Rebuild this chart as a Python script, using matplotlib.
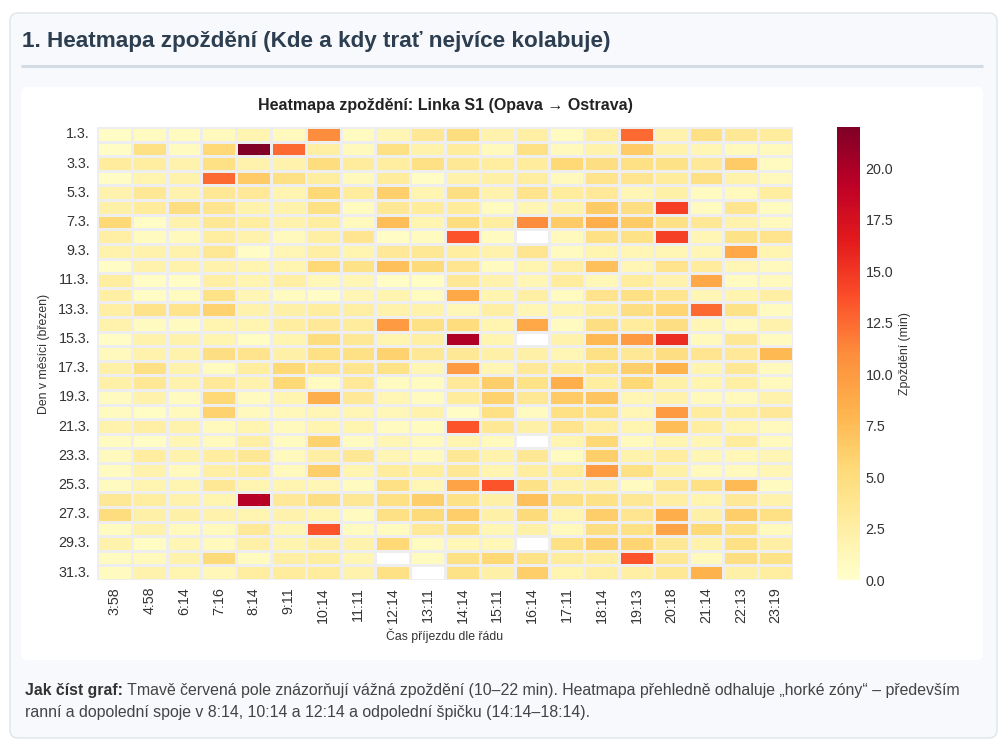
import numpy as np
import matplotlib
matplotlib.use('Agg')
import matplotlib.pyplot as plt
import seaborn as sns
from matplotlib.patches import FancyBboxPatch

plt.rcParams['font.family'] = ['Liberation Sans', 'DejaVu Sans']

W, H = 1000, 746

times = ['3:58', '4:58', '6:14', '7:16', '8:14', '9:11', '10:14', '11:11', '12:14', '13:11',
         '14:14', '15:11', '16:14', '17:11', '18:14', '19:13', '20:18', '21:14', '22:13', '23:19']
days = [f'{d}.3.' for d in range(1, 32)]
nan = np.nan

# delay in minutes, one row per day, one column per scheduled arrival
delays_min = [
    [0.5, 0.8, 0.8, 1.0, 1.8, 1.0, 11.0, 0.8, 1.5, 3.5, 5.0, 2.0, 2.5, 0.8, 2.5, 12.5, 2.0, 4.5, 3.5, 3.0],
    [0.5, 4.5, 0.8, 5.5, 22.0, 12.5, 2.5, 1.0, 4.5, 2.0, 3.0, 1.0, 4.5, 1.0, 2.0, 6.5, 2.0, 1.5, 1.0, 1.0],
    [3.0, 2.8, 2.0, 4.5, 2.0, 2.0, 5.0, 3.0, 2.8, 4.5, 3.5, 2.8, 3.0, 5.5, 4.8, 4.5, 4.3, 3.3, 6.5, 0.8],
    [0.5, 1.8, 2.0, 12.5, 6.5, 4.5, 2.8, 1.0, 3.0, 0.5, 2.0, 2.3, 2.8, 1.0, 4.0, 3.8, 3.0, 4.5, 2.0, 1.0],
    [2.0, 3.5, 2.0, 3.5, 3.3, 1.8, 5.5, 3.0, 6.2, 1.8, 4.8, 2.0, 4.0, 3.0, 3.3, 1.5, 2.3, 0.8, 1.0, 2.8],
    [2.3, 3.0, 4.8, 3.8, 2.0, 2.0, 4.5, 0.8, 3.5, 3.0, 3.0, 0.8, 1.5, 2.0, 6.5, 4.8, 14.5, 0.8, 3.8, 0.8],
    [5.5, 0.5, 2.0, 3.5, 2.8, 2.0, 2.8, 1.0, 7.5, 1.8, 5.0, 2.8, 11.0, 6.5, 8.5, 6.5, 4.5, 3.5, 2.0, 1.0],
    [2.5, 0.8, 1.0, 2.8, 2.0, 1.0, 2.5, 3.8, 0.5, 0.8, 13.5, 0.8, nan, 1.0, 4.5, 4.3, 14.5, 1.5, 4.3, 4.0],
    [2.0, 2.0, 2.0, 3.5, 0.5, 1.5, 2.5, 1.8, 3.3, 3.5, 2.8, 2.0, 3.8, 0.8, 1.8, 1.5, 1.5, 1.5, 9.0, 1.8],
    [0.5, 2.0, 2.0, 2.0, 1.8, 1.8, 5.5, 4.3, 7.3, 5.3, 3.8, 0.8, 1.8, 2.5, 7.3, 1.5, 4.0, 3.0, 1.5, 1.0],
    [2.8, 0.5, 0.5, 2.5, 1.8, 2.5, 1.3, 1.5, 0.5, 0.6, 3.5, 2.0, 1.5, 3.0, 1.3, 3.0, 2.0, 9.0, 0.8, 1.0],
    [2.5, 0.5, 0.8, 4.3, 1.5, 0.8, 0.5, 1.5, 1.8, 0.8, 9.0, 1.8, 2.5, 0.8, 4.0, 4.5, 3.8, 1.5, 1.8, 2.5],
    [2.5, 4.2, 4.0, 6.0, 2.0, 2.3, 2.8, 2.5, 2.0, 2.0, 1.3, 2.5, 1.5, 1.8, 2.8, 4.8, 5.8, 12.5, 4.3, 0.8],
    [2.0, 0.8, 0.8, 1.8, 1.8, 2.8, 3.3, 3.0, 10.0, 4.5, 5.0, 1.8, 9.0, 0.8, 4.8, 3.0, 4.8, 1.5, 1.0, 2.0],
    [0.5, 2.0, 2.0, 1.8, 0.6, 1.8, 5.0, 3.5, 1.8, 2.5, 19.8, 1.8, nan, 2.0, 7.8, 10.0, 15.5, 1.0, 3.5, 0.8],
    [1.0, 2.0, 2.0, 4.8, 4.0, 2.3, 4.5, 4.5, 6.0, 3.5, 3.5, 2.3, 2.3, 1.5, 4.5, 3.5, 4.8, 3.8, 3.3, 7.8],
    [2.3, 4.5, 2.0, 0.8, 2.8, 5.5, 4.0, 3.8, 4.3, 1.5, 10.0, 1.5, 3.3, 3.0, 4.3, 6.3, 8.3, 1.8, 3.5, 1.0],
    [2.3, 3.5, 2.0, 3.3, 2.0, 5.5, 0.8, 3.3, 0.8, 0.8, 3.3, 6.3, 4.3, 8.5, 2.8, 5.5, 2.3, 1.8, 2.5, 1.0],
    [0.8, 2.0, 0.8, 5.5, 0.8, 1.8, 8.5, 3.3, 1.5, 0.8, 3.0, 6.0, 3.5, 6.5, 7.0, 1.5, 2.0, 1.0, 1.0, 2.0],
    [0.8, 0.6, 1.0, 6.0, 1.0, 1.2, 1.5, 1.5, 1.3, 2.0, 0.5, 4.5, 0.8, 4.5, 4.5, 1.5, 10.0, 3.0, 2.8, 3.3],
    [2.0, 2.5, 2.0, 1.0, 1.8, 1.0, 1.8, 1.8, 0.8, 0.8, 13.5, 3.5, 2.3, 4.0, 2.5, 1.8, 7.5, 2.8, 1.8, 1.0],
    [0.8, 0.5, 1.5, 1.0, 2.5, 0.8, 6.0, 0.8, 1.5, 1.0, 1.8, 1.0, nan, 1.8, 5.5, 1.0, 1.8, 1.5, 3.0, 1.0],
    [1.0, 2.8, 2.0, 2.8, 3.5, 1.0, 2.5, 3.5, 1.5, 1.0, 3.5, 2.0, 3.5, 0.8, 6.3, 2.0, 2.8, 1.5, 1.3, 1.5],
    [0.8, 2.0, 1.0, 2.5, 3.0, 1.0, 6.3, 1.8, 3.0, 2.8, 3.5, 1.8, 2.8, 3.0, 10.0, 4.5, 2.3, 1.0, 1.0, 1.5],
    [0.8, 1.8, 1.8, 3.5, 1.8, 1.8, 1.5, 0.8, 4.5, 1.5, 9.3, 13.5, 4.3, 2.0, 2.3, 0.8, 3.5, 4.5, 7.7, 0.8],
    [3.5, 2.8, 2.0, 1.8, 19.5, 3.3, 4.8, 3.5, 4.5, 6.3, 4.3, 2.3, 7.3, 4.5, 4.3, 3.5, 2.5, 1.8, 3.3, 2.0],
    [5.0, 2.3, 2.3, 2.0, 1.8, 2.0, 1.8, 0.8, 4.5, 5.3, 6.3, 2.3, 5.3, 1.8, 6.3, 3.8, 8.5, 2.3, 6.3, 4.5],
    [0.8, 2.0, 1.0, 1.0, 3.3, 1.5, 13.5, 0.8, 0.8, 3.3, 4.5, 1.5, 2.3, 1.0, 4.8, 4.5, 9.3, 5.5, 4.5, 1.0],
    [2.0, 0.6, 1.5, 1.0, 2.3, 1.8, 2.5, 2.0, 5.5, 0.8, 1.3, 1.3, nan, 4.5, 6.3, 5.8, 3.5, 2.0, 4.5, 2.5],
    [0.8, 1.0, 2.0, 5.3, 0.8, 2.5, 2.8, 1.5, nan, 0.8, 4.5, 5.5, 4.3, 3.0, 2.8, 13.5, 3.5, 1.0, 4.8, 4.3],
    [0.8, 2.0, 1.8, 1.3, 2.8, 3.0, 3.0, 2.0, 4.5, nan, 4.3, 2.3, 6.3, 1.8, 2.5, 2.5, 3.5, 8.3, 2.3, 2.8],
]

page_title = '1. Heatmapa zpoždění (Kde a kdy trať nejvíce kolabuje)'
chart_title = 'Heatmapa zpoždění: Linka S1 (Opava → Ostrava)'
note_bold = 'Jak číst graf:'
note_line1 = (' Tmavě červená pole znázorňují vážná zpoždění (10–22 min). Heatmapa přehledně '
              'odhaluje „horké zóny“ – především')
note_line2 = 'ranní a dopolední spoje v 8:14, 10:14 a 12:14 a odpolední špičku (14:14–18:14).'


def px_rect(x0, y0, x1, y1):
    # pixel box (top-left origin) -> figure fraction [left, bottom, width, height]
    return [x0 / W, 1 - y1 / H, (x1 - x0) / W, (y1 - y0) / H]


fig = plt.figure(figsize=(W / 100, H / 100), dpi=100)
fig.patch.set_facecolor('white')

# page layer in pixel coordinates
bg = fig.add_axes([0, 0, 1, 1], zorder=0)
bg.set_xlim(0, W)
bg.set_ylim(H, 0)
bg.axis('off')
bg.add_patch(FancyBboxPatch((10, 13), 987, 725, boxstyle='round,pad=0,rounding_size=8',
                            facecolor='#f7f9fc', edgecolor='#dfe5ec', linewidth=1.0))
bg.plot([21, 983], [66, 66], color='#d3dbe4', linewidth=2.2, solid_capstyle='butt')
bg.add_patch(FancyBboxPatch((21, 87), 962, 573, boxstyle='round,pad=0,rounding_size=6',
                            facecolor='white', edgecolor='none'))
bg.text(22, 42, page_title, fontsize=16.2, fontweight='bold', color='#2c3e50', va='center', ha='left')
t = bg.text(25, 690, note_bold, fontsize=11.4, fontweight='bold', color='#333333', va='center', ha='left')
fig.canvas.draw()
bb = t.get_window_extent()
bg.text(25 + bb.width, 690, note_line1, fontsize=11.4, color='#444444', va='center', ha='left')
bg.text(25, 712, note_line2, fontsize=11.4, color='#444444', va='center', ha='left')

# heatmap
ax = fig.add_axes(px_rect(97, 127, 793, 580), zorder=2)
cax = fig.add_axes(px_rect(837, 127, 860, 580), zorder=2)
data = np.array(delays_min, dtype=float)
sns.heatmap(data, ax=ax, cbar_ax=cax, cmap='YlOrRd', vmin=0, vmax=22.0,
            linewidths=1.0, linecolor='#eeeeee',
            cbar_kws={'label': 'Zpoždění (min)'})
ax.set_facecolor('white')
ax.set_xticks(np.arange(len(times)) + 0.5)
ax.set_xticklabels(times, rotation=90, fontsize=10.3, color='#333333')
ax.set_yticks(np.arange(0, len(days), 2) + 0.5)
ax.set_yticklabels(days[::2], rotation=0, fontsize=10.3, color='#333333')
ax.tick_params(length=0, pad=5)
ax.set_title(chart_title, fontsize=11.5, fontweight='bold', color='#222222', pad=12)
ax.set_xlabel('Čas příjezdu dle řádu', fontsize=8.8, color='#333333', labelpad=4)
ax.set_ylabel('Den v měsíci (březen)', fontsize=8.8, color='#333333', labelpad=6)

cax.set_yticks([0, 2.5, 5, 7.5, 10, 12.5, 15, 17.5, 20])
cax.set_yticklabels(['0.0', '2.5', '5.0', '7.5', '10.0', '12.5', '15.0', '17.5', '20.0'])
cax.tick_params(length=0, labelsize=10.3, labelcolor='#333333', pad=4)
cax.yaxis.label.set_size(8.8)
cax.yaxis.label.set_color('#333333')

fig.savefig('out.png', dpi=100, facecolor='white')
